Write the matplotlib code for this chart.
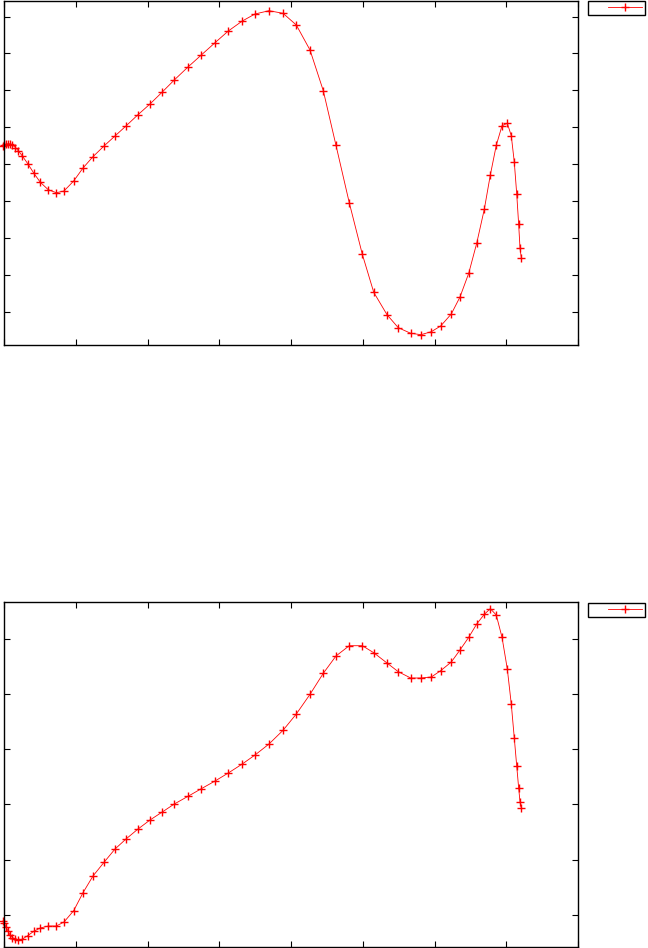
import matplotlib
matplotlib.use("Agg")
import matplotlib.pyplot as plt

# shared x positions
x = [-0.014, 0.000, 0.028, 0.056, 0.084, 0.118, 0.160, 0.202, 0.251, 0.334,
     0.414, 0.506, 0.617, 0.729, 0.836, 0.971, 1.101, 1.240, 1.394, 1.547,
     1.700, 1.863, 2.035, 2.206, 2.373, 2.564, 2.750, 2.941, 3.126, 3.321,
     3.498, 3.693, 3.889, 4.074, 4.265, 4.450, 4.627, 4.812, 4.994, 5.153,
     5.338, 5.495, 5.668, 5.812, 5.955, 6.086, 6.234, 6.355, 6.477, 6.588,
     6.694, 6.778, 6.861, 6.941, 7.015, 7.070, 7.112, 7.146, 7.173, 7.192,
     7.210]

y_top = [4.504, 4.518, 4.537, 4.550, 4.545, 4.518, 4.450, 4.355, 4.233, 4.003,
         3.759, 3.507, 3.306, 3.225, 3.271, 3.542, 3.894, 4.201, 4.491, 4.762,
         5.033, 5.331, 5.629, 5.954, 6.279, 6.631, 6.957, 7.290, 7.607, 7.878,
         8.068, 8.157, 8.087, 7.770, 7.092, 5.989, 4.509, 2.954, 1.556, 0.526,
         -0.081, -0.434, -0.585, -0.623, -0.542, -0.388, -0.062, 0.398, 1.041, 1.854,
         2.775, 3.705, 4.509, 5.041, 5.106, 4.770, 4.057, 3.190, 2.369, 1.718,
         1.455]

y_bot = [-0.108, -0.150, -0.217, -0.289, -0.362, -0.407, -0.439, -0.452, -0.439, -0.371,
         -0.295, -0.235, -0.199, -0.199, -0.127, 0.078, 0.403, 0.705, 0.953, 1.193,
         1.374, 1.550, 1.718, 1.863, 2.007, 2.146, 2.284, 2.423, 2.568, 2.731,
         2.893, 3.092, 3.340, 3.635, 3.991, 4.371, 4.684, 4.870, 4.870, 4.743,
         4.557, 4.400, 4.286, 4.286, 4.304, 4.418, 4.575, 4.792, 5.022, 5.262,
         5.438, 5.539, 5.425, 5.022, 4.448, 3.816, 3.201, 2.694, 2.297, 2.043,
         1.935]

xticks = [0, 1, 2, 3, 4, 5, 6, 7, 8]
yticks_top = [0, 1, 2, 3, 4, 5, 6, 7, 8]
yticks_bot = [0, 1, 2, 3, 4, 5]

W, H = 648, 948
fig = plt.figure(figsize=(W / 100, H / 100), dpi=100)

def make_ax(top_px, bot_px, ylim, yticks, yvals):
    left, right = 4, 578
    ax = fig.add_axes([left / W, 1 - bot_px / H, (right - left) / W, (bot_px - top_px) / H])
    line, = ax.plot(x, yvals, color="#ff0000", lw=0.6, marker="+", ms=5.5, mew=1.0,
                    clip_on=False, label="")
    ax.set_xlim(0, 8)
    ax.set_ylim(*ylim)
    ax.set_xticks(xticks)
    ax.set_yticks(yticks)
    ax.tick_params(direction="in", length=4, width=0.8, top=True, right=True,
                   labelleft=False, labelbottom=False)
    for s in ax.spines.values():
        s.set_linewidth(1.0)
    leg = ax.legend(handles=[line], labels=[""], loc="upper left",
                    bbox_to_anchor=(588.3 / W, 1 - (top_px + 0.3) / H),
                    bbox_transform=fig.transFigure, borderaxespad=0,
                    fontsize=6, borderpad=0.3, handlelength=4.1, handletextpad=2.1,
                    markerfirst=False, numpoints=1, fancybox=False, framealpha=1,
                    edgecolor="black")
    leg.get_frame().set_linewidth(1.0)
    return ax

make_ax(0.5, 344.5, (-0.889, 8.434), yticks_top, y_top)
make_ax(602.3, 947.3, (-0.584, 5.655), yticks_bot, y_bot)

fig.savefig("out.png", dpi=100)
